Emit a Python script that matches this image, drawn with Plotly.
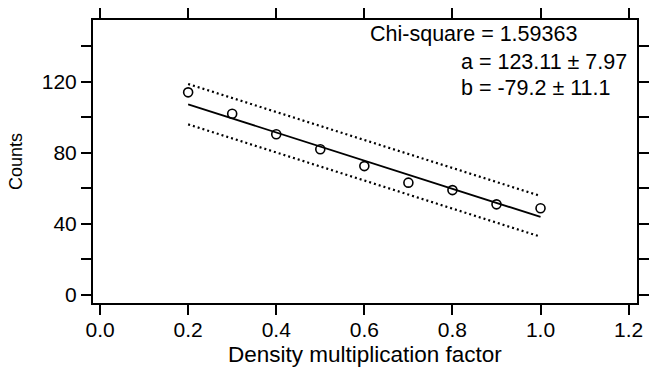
import plotly.graph_objects as go

# Data
density = [0.2, 0.3, 0.4, 0.5, 0.6, 0.7, 0.8, 0.9, 1.0]
counts = [114.0, 102.0, 90.4, 82.0, 72.5, 63.2, 59.0, 51.0, 48.8]

fit_x = [0.2, 0.3, 0.4, 0.5, 0.6, 0.7, 0.8, 0.9, 1.0]
fit_y = [107.27, 99.35, 91.43, 83.51, 75.59, 67.67, 59.75, 51.83, 43.91]

band_x = [0.2, 1.0]
upper_y = [118.7, 55.7]
lower_y = [96.0, 32.8]

x_ticks = [0.0, 0.2, 0.4, 0.6, 0.8, 1.0, 1.2]
x_ticktext = ["0.0", "0.2", "0.4", "0.6", "0.8", "1.0", "1.2"]
y_ticks = [0, 20, 40, 60, 80, 100, 120, 140]
y_ticktext = ["0", "", "40", "", "80", "", "120", ""]

x_title = "Density multiplication factor"
y_title = "Counts"
fit_text = ["Chi-square = 1.59363", "a = 123.11 ± 7.97", "b = -79.2 ± 11.1"]

FONT = "Liberation Sans, Arial, sans-serif"

fig = go.Figure()
fig.add_trace(go.Scatter(x=band_x, y=upper_y, mode="lines",
                         line=dict(color="black", width=2.2, dash="2px,3px"),
                         showlegend=False))
fig.add_trace(go.Scatter(x=band_x, y=lower_y, mode="lines",
                         line=dict(color="black", width=2.2, dash="2px,3px"),
                         showlegend=False))
fig.add_trace(go.Scatter(x=fit_x, y=fit_y, mode="lines",
                         line=dict(color="black", width=1.8),
                         showlegend=False))
fig.add_trace(go.Scatter(x=density, y=counts, mode="markers",
                         marker=dict(symbol="circle-open", size=9, color="black",
                                     line=dict(color="black", width=1.6)),
                         showlegend=False))

axis_common = dict(showgrid=False, zeroline=False, showline=True, linecolor="black",
                   linewidth=2, ticks="outside", ticklen=10, tickwidth=2,
                   tickcolor="black", mirror="allticks", automargin=False,
                   tickfont=dict(family=FONT, size=21, color="black"))

fig.update_xaxes(range=[-0.016, 1.219], tickvals=x_ticks, ticktext=x_ticktext,
                 ticklabelstandoff=-3, **axis_common)
fig.update_yaxes(range=[-4.5, 154.7], tickvals=y_ticks, ticktext=y_ticktext,
                 title=dict(text=y_title, font=dict(family=FONT, size=18, color="black"),
                            standoff=14),
                 **axis_common)

# x-axis title placed just above the bottom edge of the figure
fig.add_annotation(x=(365 - 93) / 543.5, y=-0.228, xref="paper", yref="paper",
                   text=x_title, showarrow=False, xanchor="center", yanchor="bottom",
                   borderpad=0, font=dict(family=FONT, size=22.5, color="black"))

ann_pos = [(0.506, 0.95), (0.673, 0.852), (0.673, 0.758)]
for txt, (px, py) in zip(fit_text, ann_pos):
    fig.add_annotation(x=px, y=py, xref="paper", yref="paper", text=txt,
                       showarrow=False, xanchor="left", yanchor="middle",
                       font=dict(family=FONT, size=21.5, color="black"))

fig.update_layout(width=649, height=367, margin=dict(l=93, r=12, t=20, b=64),
                  plot_bgcolor="white", paper_bgcolor="white",
                  font=dict(family=FONT, color="black"))

fig.write_html("out.html")
